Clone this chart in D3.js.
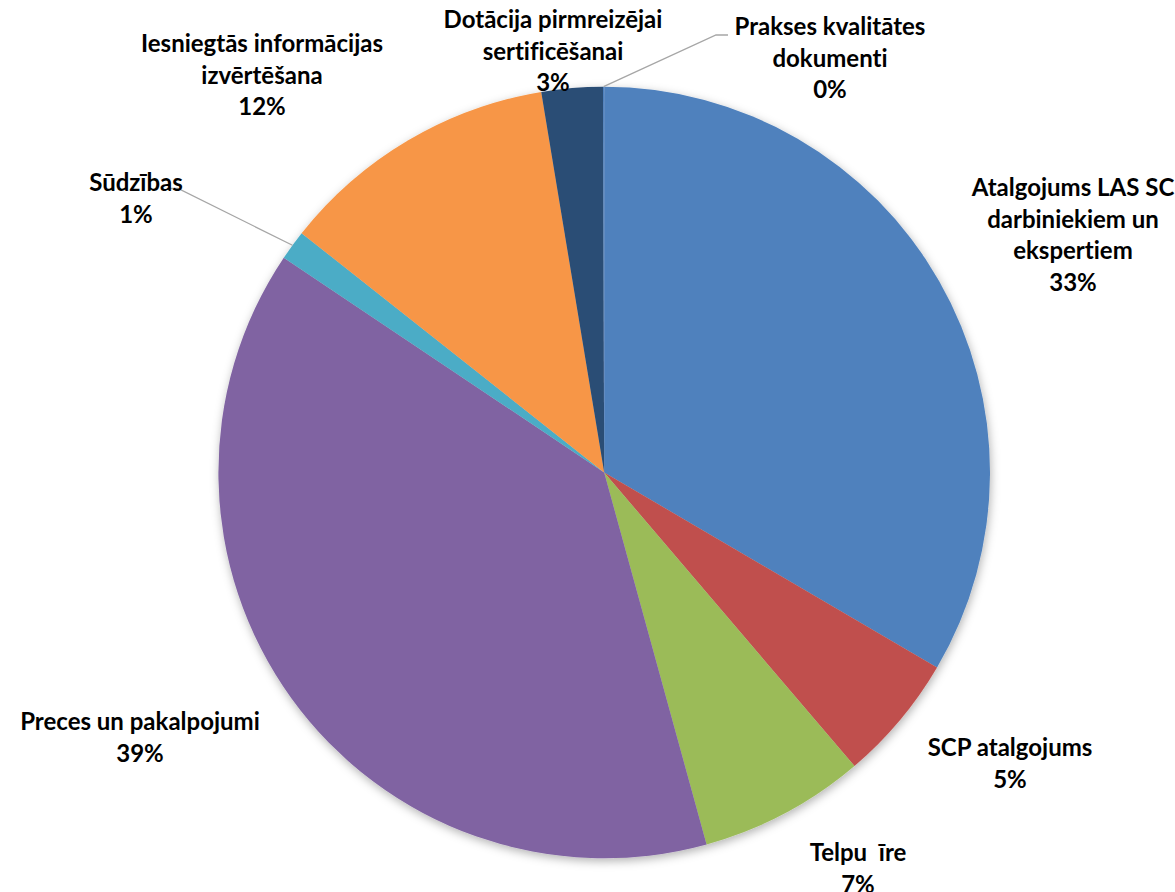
<!DOCTYPE html>
<html>
<head>
<meta charset="utf-8">
<script src="https://cdn.jsdelivr.net/npm/d3@7"></script>
<style>
  html, body { margin: 0; padding: 0; background: #fff; }
  svg { display: block; }
  text { font-family: Lato, "Open Sans", sans-serif; font-weight: 700; fill: #000; font-variant-ligatures: none; font-feature-settings: "liga" 0; }
</style>
</head>
<body>
<svg id="chart" width="1175" height="892"></svg>
<script>
// ---- data ----
const categories = [
  "Atalgojums LAS SC darbiniekiem un ekspertiem",
  "SCP atalgojums",
  "Telpu  īre",
  "Preces un pakalpojumi",
  "Sūdzības",
  "Iesniegtās informācijas izvērtēšana",
  "Dotācija pirmreizējai sertificēšanai",
  "Prakses kvalitātes dokumenti"
];
const values = [33.44, 5.33, 6.96, 38.68, 1.25, 11.74, 2.56, 0.05];
const labelLines = [
  ["Atalgojums LAS SC", "darbiniekiem un", "ekspertiem"],
  ["SCP atalgojums"],
  ["Telpu  īre"],
  ["Preces un pakalpojumi"],
  ["Sūdzības"],
  ["Iesniegtās informācijas", "izvērtēšana"],
  ["Dotācija pirmreizējai", "sertificēšanai"],
  ["Prakses kvalitātes", "dokumenti"]
];
const colors = ["#4F81BD", "#C0504D", "#9BBB59", "#8064A2", "#4BACC6", "#F79646", "#2C4D75", "#4F81BD"];

// ---- layout (label anchors: center x, first line center y) ----
const cx = 604.2, cy = 472.5, radius = 385.8;
const lineGap = 31.5;
const labelAnchor = [
  [1073, 188],
  [1010, 748],
  [858, 853],
  [140, 722],
  [136, 183],
  [262, 44],
  [553, 20],
  [830, 27]
];
// leader lines: elbow point and end point (null = none)
const leaders = [null, null, null, null,
  [[178, 188.5], [167, 188.5]],
  null, null,
  [[716, 35], [728, 35]]
];

const svg = d3.select("#chart");
const defs = svg.append("defs");
const f = defs.append("filter").attr("id", "shadow")
  .attr("x", "-10%").attr("y", "-10%").attr("width", "120%").attr("height", "120%");
f.append("feDropShadow").attr("dx", 1).attr("dy", 3).attr("stdDeviation", 5)
  .attr("flood-color", "#000").attr("flood-opacity", 0.3);

const total = d3.sum(values);
const pie = d3.pie().sort(null).value(d => d)(values);
const arc = d3.arc().innerRadius(0).outerRadius(radius);

const g = svg.append("g").attr("transform", `translate(${cx},${cy})`);
const slices = g.append("g").attr("filter", "url(#shadow)");
slices.selectAll("path").data(pie).join("path")
  .attr("d", arc)
  .attr("fill", (d, i) => colors[i]);

// leader lines
pie.forEach((d, i) => {
  if (!leaders[i]) return;
  const a = (d.startAngle + d.endAngle) / 2;
  const sx = cx + radius * Math.sin(a), sy = cy - radius * Math.cos(a);
  const pts = [[sx, sy], leaders[i][0], leaders[i][1]];
  svg.append("path")
    .attr("d", d3.line()(pts))
    .attr("fill", "none")
    .attr("stroke", "#A6A6A6")
    .attr("stroke-width", 1.3);
});

// labels
const fontSize = 24;
pie.forEach((d, i) => {
  const lines = labelLines[i].concat([Math.round(values[i] / total * 100) + "%"]);
  const [x, y] = labelAnchor[i];
  const t = svg.append("text")
    .attr("text-anchor", "middle")
    .attr("font-size", fontSize);
  lines.forEach((ln, k) => {
    t.append("tspan")
      .attr("x", x)
      .attr("y", y + k * lineGap)
      .attr("dy", "0.35em")
      .attr("xml:space", "preserve")
      .style("white-space", "pre")
      .text(ln);
  });
});
</script>
</body>
</html>
